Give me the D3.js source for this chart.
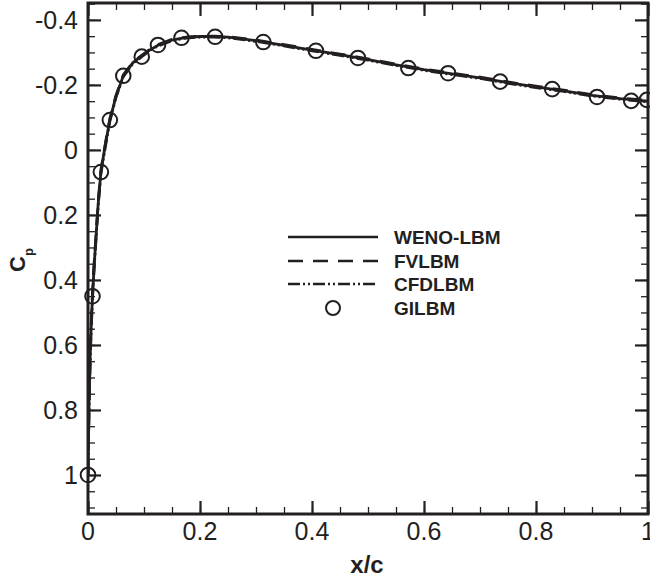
<!DOCTYPE html>
<html>
<head>
<meta charset="utf-8">
<script src="https://cdn.jsdelivr.net/npm/d3@7"></script>
<style>
  body { margin: 0; background: #fff; }
  text { font-family: "Liberation Sans", Arial, sans-serif; fill: #231f20; }
</style>
</head>
<body>
<div id="chart-area"></div>
<script>
// SVG size
let width  = 650,
    height = 580;

// data
let xWeno  = [0, 0.001, 0.002, 0.004, 0.006, 0.008, 0.011, 0.014, 0.018, 0.023, 0.028, 0.033, 0.039, 0.05, 0.063, 0.08, 0.096, 0.11, 0.125, 0.15, 0.175, 0.2, 0.225, 0.25, 0.3, 0.35, 0.4, 0.45, 0.5, 0.55, 0.6, 0.65, 0.7, 0.75, 0.8, 0.85, 0.9, 0.95, 1.0];
let cpWeno = [1.0, 0.88, 0.77, 0.63, 0.53, 0.45, 0.355, 0.277, 0.17, 0.068, 0.015, -0.035, -0.092, -0.165, -0.228, -0.268, -0.289, -0.307, -0.322, -0.338, -0.346, -0.349, -0.349, -0.347, -0.336, -0.322, -0.307, -0.293, -0.278, -0.262, -0.247, -0.234, -0.222, -0.207, -0.194, -0.182, -0.168, -0.158, -0.15];
let cpFv   = [1.0, 0.87, 0.76, 0.62, 0.52, 0.44, 0.348, 0.27, 0.163, 0.062, 0.01, -0.04, -0.096, -0.168, -0.231, -0.27, -0.291, -0.309, -0.324, -0.34, -0.347, -0.35, -0.35, -0.348, -0.338, -0.324, -0.309, -0.295, -0.28, -0.264, -0.249, -0.236, -0.224, -0.209, -0.196, -0.184, -0.17, -0.16, -0.152];
let cpCfd  = [1.0, 0.89, 0.78, 0.64, 0.54, 0.46, 0.362, 0.284, 0.176, 0.074, 0.02, -0.03, -0.088, -0.162, -0.225, -0.265, -0.287, -0.305, -0.32, -0.336, -0.344, -0.347, -0.347, -0.345, -0.334, -0.32, -0.305, -0.291, -0.276, -0.26, -0.245, -0.232, -0.22, -0.205, -0.192, -0.18, -0.166, -0.156, -0.148];

let xGil   = [0, 0.008, 0.023, 0.039, 0.063, 0.096, 0.125, 0.167, 0.227, 0.313, 0.407, 0.482, 0.572, 0.643, 0.736, 0.829, 0.909, 0.97, 0.998];
let cpGil  = [1.0, 0.45, 0.068, -0.092, -0.228, -0.287, -0.323, -0.345, -0.348, -0.332, -0.305, -0.283, -0.252, -0.236, -0.21, -0.187, -0.163, -0.151, -0.154];

let xTicks = [0, 0.2, 0.4, 0.6, 0.8, 1];
let yTicks = [-0.4, -0.2, 0, 0.2, 0.4, 0.6, 0.8, 1];

let seriesNames = ["WENO-LBM", "FVLBM", "CFDLBM", "GILBM"];
let dashes = [null, "15,10", "12,3,2,3,2,3"];

// plot area
let pLeft = 88, pRight = 648, pTop = 3, pBottom = 514;

let svg = d3.select("#chart-area")
    .append("svg")
    .attr("width", width)
    .attr("height", height);

// scales
let x = d3.scaleLinear()
    .domain([0, 1])
    .range([pLeft, pRight]);

let y = d3.scaleLinear()
    .domain([-0.452, 1.12])
    .range([pTop, pBottom]);

svg.append("clipPath")
    .attr("id", "clip")
    .append("rect")
    .attr("x", pLeft).attr("y", pTop)
    .attr("width", pRight - pLeft).attr("height", pBottom - pTop);

let minorX = d3.range(0, 1.0001, 0.05);
let minorY = d3.range(-0.45, 1.1001, 0.05);

// ticks on all four sides, pointing inwards
function addAxis(axis, scale, vals, tickLen, sw, transform) {
    let g = svg.append("g")
        .attr("transform", transform)
        .call(axis(scale).tickValues(vals).tickSize(-tickLen).tickFormat(""));
    g.select(".domain").remove();
    g.selectAll(".tick line").attr("stroke", "#231f20").attr("stroke-width", sw);
    return g;
}

addAxis(d3.axisBottom, x, minorX, 7, 1.3, `translate(0,${pBottom})`);
addAxis(d3.axisTop, x, minorX, 7, 1.3, `translate(0,${pTop})`);
addAxis(d3.axisLeft, y, minorY, 7, 1.3, `translate(${pLeft},0)`);
addAxis(d3.axisRight, y, minorY, 7, 1.3, `translate(${pRight},0)`);
addAxis(d3.axisBottom, x, xTicks, 13, 2.2, `translate(0,${pBottom})`);
addAxis(d3.axisTop, x, xTicks, 13, 2.2, `translate(0,${pTop})`);
addAxis(d3.axisLeft, y, yTicks, 13, 2.2, `translate(${pLeft},0)`);
addAxis(d3.axisRight, y, yTicks, 13, 2.2, `translate(${pRight},0)`);

// tick labels
let fmt = d => String(+d.toFixed(1));

svg.append("g").selectAll("text")
    .data(xTicks)
    .enter()
    .append("text")
    .attr("x", d => x(d))
    .attr("y", 540)
    .attr("text-anchor", "middle")
    .style("font-size", "25px")
    .text(fmt);

svg.append("g").selectAll("text")
    .data(yTicks)
    .enter()
    .append("text")
    .attr("x", 78)
    .attr("y", d => y(d) + 9)
    .attr("text-anchor", "end")
    .style("font-size", "25px")
    .text(fmt);

// lines
let line = d3.line()
    .x(d => x(d[0]))
    .y(d => y(d[1]));

let plot = svg.append("g").attr("clip-path", "url(#clip)");

[cpWeno, cpFv, cpCfd].forEach((cp, i) => {
    plot.append("path")
        .datum(xWeno.map((xv, j) => [xv, cp[j]]))
        .attr("d", line)
        .attr("fill", "none")
        .attr("stroke", "#231f20")
        .attr("stroke-width", 2.8)
        .attr("stroke-dasharray", dashes[i]);
});

// GILBM circles
svg.append("g").selectAll("circle")
    .data(xGil.map((xv, j) => [xv, cpGil[j]]))
    .enter()
    .append("circle")
    .attr("cx", d => x(d[0]))
    .attr("cy", d => y(d[1]))
    .attr("r", 7.3)
    .attr("fill", "none")
    .attr("stroke", "#231f20")
    .attr("stroke-width", 2);

// frame
svg.append("rect")
    .attr("x", pLeft).attr("y", pTop)
    .attr("width", pRight - pLeft).attr("height", pBottom - pTop)
    .attr("fill", "none")
    .attr("stroke", "#231f20")
    .attr("stroke-width", 3);

// legend
let legY = [237, 261, 284, 308];
let leg = svg.append("g");
seriesNames.forEach((name, i) => {
    if (i < 3) {
        leg.append("line")
            .attr("x1", 288).attr("x2", 378)
            .attr("y1", legY[i]).attr("y2", legY[i])
            .attr("stroke", "#231f20")
            .attr("stroke-width", 2.6)
            .attr("stroke-dasharray", dashes[i]);
    } else {
        leg.append("circle")
            .attr("cx", 333).attr("cy", legY[i])
            .attr("r", 7)
            .attr("fill", "none")
            .attr("stroke", "#231f20")
            .attr("stroke-width", 2);
    }
    leg.append("text")
        .attr("x", 394)
        .attr("y", legY[i] + 7)
        .style("font-size", "19px")
        .style("font-weight", "bold")
        .text(name);
});

// axis titles
svg.append("text")
    .attr("x", 367)
    .attr("y", 573)
    .attr("text-anchor", "middle")
    .style("font-size", "24px")
    .style("font-weight", "bold")
    .text("x/c");

let cpLabel = svg.append("text")
    .attr("transform", "translate(25,272) rotate(-90)")
    .style("font-size", "22px")
    .style("font-weight", "bold");
cpLabel.append("tspan").text("C");
cpLabel.append("tspan").attr("dy", 8).style("font-size", "13px").text("p");
</script>
</body>
</html>
